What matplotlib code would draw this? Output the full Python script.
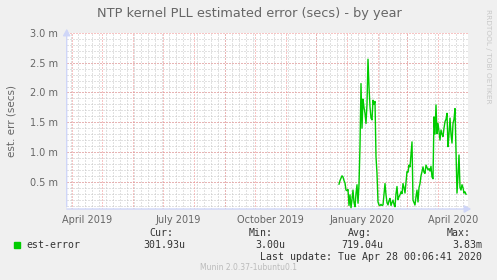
import numpy as np
import pandas as pd
import matplotlib
matplotlib.use("Agg")
import matplotlib.pyplot as plt

# daily values of est-error, in milliseconds
start_day = "2019-12-23 17:00"
err_ms = [
    0.46, 0.52, 0.56, 0.60, 0.58, 0.52, 0.48, 0.36, 0.35, 0.37,
    0.10, 0.28, 0.06, 0.20, 0.36, 0.15, 0.08, 0.30, 0.45, 0.14,
    0.45, 1.10, 2.15, 1.40, 1.89, 1.75, 1.65, 1.48, 1.80, 2.56,
    2.10, 1.76, 1.57, 1.54, 1.87, 1.80, 1.85, 0.92, 0.64, 0.16,
    0.11, 0.10, 0.12, 0.10, 0.11, 0.30, 0.47, 0.28, 0.15, 0.11,
    0.18, 0.22, 0.10, 0.15, 0.19, 0.12, 0.08, 0.30, 0.42, 0.20,
    0.25, 0.28, 0.33, 0.30, 0.47, 0.40, 0.31, 0.50, 0.67, 0.66,
    0.78, 0.75, 0.95, 1.17, 0.19, 0.15, 0.11, 0.25, 0.36, 0.16,
    0.40, 0.47, 0.60, 0.67, 0.75, 0.66, 0.64, 0.78, 0.74, 0.70,
    0.72, 0.68, 0.76, 0.58, 0.55, 1.59, 1.30, 1.79, 1.31, 1.48,
    1.35, 1.20, 1.37, 1.30, 1.26, 1.40, 1.51, 1.55, 1.65, 1.09,
    1.30, 1.57, 1.30, 1.15, 1.48, 1.55, 1.73, 0.98, 0.31, 0.60,
    0.95, 0.40, 0.36, 0.45, 0.40, 0.31, 0.33, 0.29,
]
dates = pd.date_range(start_day, periods=len(err_ms), freq="D")

month_labels = ["April 2019", "July 2019", "October 2019", "January 2020", "April 2020"]
label_dates = pd.to_datetime(["2019-04-16", "2019-07-16", "2019-10-16", "2020-01-16", "2020-04-16"])
y_major = [0.5, 1.0, 1.5, 2.0, 2.5, 3.0]

legend_head = ["Cur:", "Min:", "Avg:", "Max:"]
legend_vals = ["301.93u", "3.00u", "719.04u", "3.83m"]

BACK = "#F0F0F0"
FONT = "#666666"
AXIS = "#CFD6F8"
GRID = "#C4C4C4"
MGRID = "#F08A8A"
GREEN = "#00CC00"

W, H = 497, 280
fig = plt.figure(figsize=(W / 100, H / 100), dpi=100, facecolor=BACK)
ax = fig.add_axes([66.7 / W, 1 - 209 / H, (468 - 66.7) / W, (209 - 33) / H])
ax.set_facecolor("white")
for s in ax.spines.values():
    s.set_visible(False)

x0 = pd.Timestamp("2019-03-26 10:00")
x1 = pd.Timestamp("2020-04-30 17:00")
ax.set_xlim(x0, x1)
ax.set_ylim(0.042, 3.0)

dot = (0, (1, 2))
# minor grid
for d in pd.date_range("2019-03-31", "2020-04-30", freq="W-SUN"):
    ax.axvline(d, color=GRID, lw=0.72, ls=dot, zorder=1)
for v in np.arange(0.1, 3.0, 0.1):
    ax.axhline(v, color=GRID, lw=0.72, ls=dot, zorder=1)
# major grid
for d in pd.date_range("2019-04-01", "2020-04-01", freq="MS"):
    ax.axvline(d, color=MGRID, lw=0.72, ls=dot, zorder=2)
for v in y_major:
    ax.axhline(v, color=MGRID, lw=0.72, ls=dot, zorder=2)

ax.plot(dates, err_ms, color=GREEN, lw=1.0, zorder=3)

ax.set_xticks(label_dates)
ax.set_xticklabels(month_labels)
ax.set_yticks(y_major)
ax.set_yticklabels([f"{v:.1f} m" for v in y_major])
ax.tick_params(axis="both", length=0, labelsize=7, labelcolor=FONT)
ax.tick_params(axis="x", pad=4)
ax.tick_params(axis="y", pad=6)

# axes with arrows
ax.annotate("", xy=(66.7, H - 26), xytext=(66.7, H - 209.5), xycoords="figure pixels",
            arrowprops=dict(arrowstyle="-|>,head_length=0.4,head_width=0.22", color=AXIS, lw=1.0))
ax.annotate("", xy=(474, H - 209), xytext=(64, H - 209), xycoords="figure pixels",
            arrowprops=dict(arrowstyle="-|>,head_length=0.4,head_width=0.22", color=AXIS, lw=1.0))

fig.text(249 / W, 1 - 14 / H, "NTP kernel PLL estimated error (secs) - by year",
         ha="center", va="center", fontsize=9.3, color=FONT)
fig.text(12 / W, 1 - 121 / H, "est. err (secs)", rotation=90, ha="center", va="center",
         fontsize=7.5, color=FONT)
fig.text(488 / W, 1 - 56 / H, "RRDTOOL / TOBI OETIKER", rotation=270, ha="center", va="center",
         fontsize=5.3, color="#C8C8C8")

mono = "DejaVu Sans Mono"
fig.patches.append(plt.Rectangle((14 / W, 1 - 248 / H), 6 / W, 6 / H, transform=fig.transFigure,
                                 color=GREEN, figure=fig))
fig.text(26.3 / W, 1 - 245 / H, "est-error", family=mono, fontsize=7.1, color="#333333", va="center")
head_x = [149.3, 248.5, 348.3, 446.7]
val_x = [143.3, 255.0, 341.7, 452.3]
for hx, vx, h, v in zip(head_x, val_x, legend_head, legend_vals):
    fig.text(hx / W, 1 - 232.7 / H, h, family=mono, fontsize=7.1, color="#333333", va="center")
    fig.text(vx / W, 1 - 245 / H, v, family=mono, fontsize=7.1, color="#333333", va="center")
fig.text(482 / W, 1 - 256.7 / H, "Last update: Tue Apr 28 00:06:41 2020", family=mono,
         fontsize=7.1, color="#333333", va="center", ha="right")
fig.text(248 / W, 1 - 268 / H, "Munin 2.0.37-1ubuntu0.1", ha="center", va="center",
         fontsize=5.5, color="#BBBBBB")

fig.savefig("out.png", dpi=100, facecolor=BACK)
